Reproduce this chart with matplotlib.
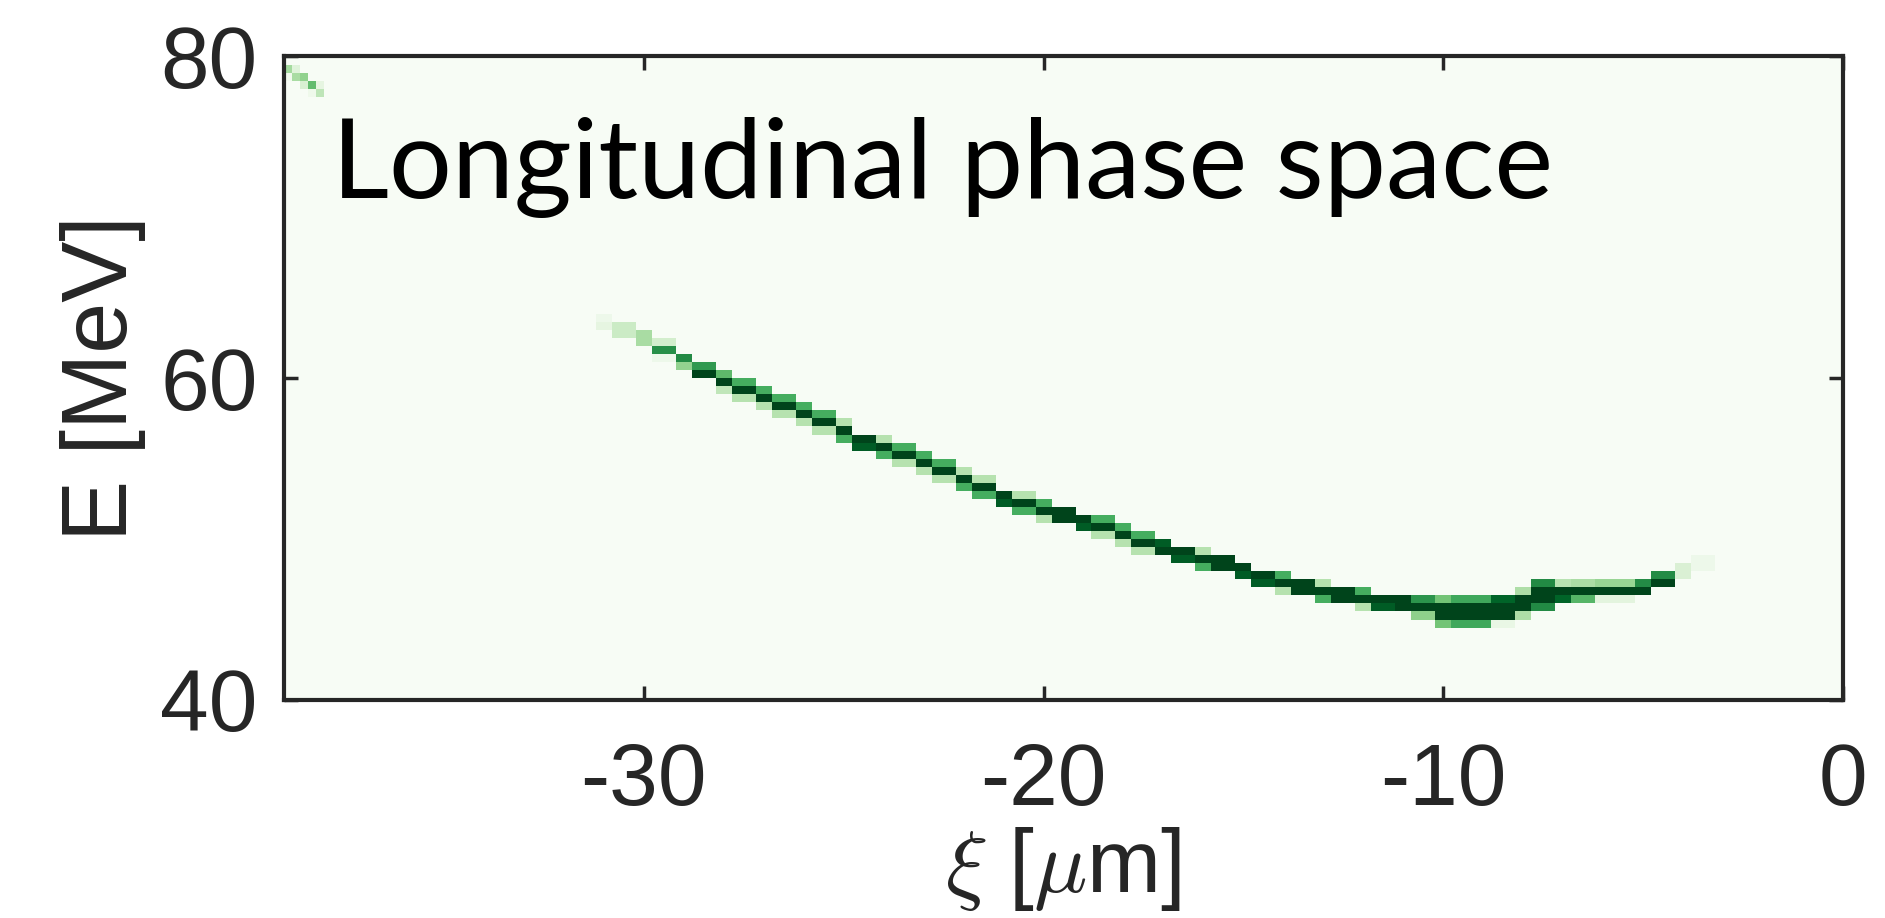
import numpy as np
import matplotlib
matplotlib.use('Agg')
import matplotlib.pyplot as plt

# ridge of the longitudinal phase space (xi in um, E in MeV)
ridge_xi = np.arange(-31.0, -3.49, 0.5)
ridge_E = [63.4, 63.0, 62.5, 61.8, 61.1, 60.4, 59.8, 59.3, 58.8, 58.3,
           57.8, 57.3, 56.7, 56.1, 55.7, 55.3, 54.8, 54.3, 53.7, 53.2,
           52.6, 52.2, 51.8, 51.5, 51.1, 50.8, 50.3, 49.8, 49.4, 49.1,
           48.7, 48.5, 48.1, 47.6, 47.3, 47.0, 46.7, 46.5, 46.3, 46.1,
           46.0, 45.8, 45.5, 45.5, 45.5, 45.7, 46.0, 46.5, 46.6, 46.7,
           46.8, 46.8, 46.9, 47.4, 48.0, 48.5]
ridge_level = [0.08, 0.2, 0.3, 0.4, 0.5, 0.75, 0.9, 1.0, 1.0, 1.0,
               1.0, 1.0, 1.0, 1.0, 1.0, 1.0, 1.0, 1.0, 1.0, 1.0,
               1.0, 1.0, 1.0, 1.0, 1.0, 1.0, 1.0, 1.0, 1.0, 1.0,
               1.0, 1.0, 1.0, 1.0, 1.0, 1.0, 1.0, 1.0, 1.0, 1.0,
               1.0, 1.0, 1.0, 1.0, 1.0, 1.0, 1.0, 1.0, 0.8, 0.8,
               0.8, 0.8, 0.9, 0.9, 0.15, 0.06]
ridge_width = [0.6, 0.6, 0.6, 0.6, 0.6, 0.65, 0.65, 0.65, 0.65, 0.65,
               0.65, 0.65, 0.65, 0.65, 0.65, 0.65, 0.65, 0.65, 0.65, 0.65,
               0.65, 0.65, 0.65, 0.65, 0.65, 0.65, 0.65, 0.65, 0.65, 0.65,
               0.65, 0.65, 0.65, 0.65, 0.65, 0.65, 0.65, 0.65, 0.65, 0.65,
               0.65, 0.7, 1.0, 1.1, 1.1, 1.0, 0.9, 1.2, 0.8, 0.7,
               0.6, 0.6, 0.6, 0.6, 0.6, 0.6]

# faint streak in the upper left corner
corner_xi = [-38.9, -38.7, -38.5, -38.3, -38.1]
corner_E = [79.2, 78.9, 78.6, 78.2, 77.9]
corner_level = [0.2, 0.25, 0.3, 0.3, 0.2]

xi_edges = np.arange(-39.0, 0.01, 0.2)
E_edges = np.arange(40.0, 80.01, 0.5)
xc = 0.5*(xi_edges[:-1]+xi_edges[1:])
Ec = 0.5*(E_edges[:-1]+E_edges[1:])
H = np.zeros((len(Ec), len(xc)))

def add_slice(x0, e0, a, w, half=0.25):
    for j in np.where(np.abs(xc-x0) <= half)[0]:
        d = np.abs(Ec-e0)
        H[:, j] = np.maximum(H[:, j], a*np.clip(1-d/w, 0, 1))

for x0, e0, a, w in zip(ridge_xi, ridge_E, ridge_level, ridge_width):
    add_slice(x0, e0, a, w)
for x0, e0, a in zip(corner_xi, corner_E, corner_level):
    add_slice(x0, e0, a, 0.5, half=0.1)

plt.rcParams['axes.unicode_minus'] = False
plt.rcParams['mathtext.fontset'] = 'cm'

fig = plt.figure(figsize=(18.85, 9.18), dpi=100)
ax = fig.add_axes([0.1507, 0.2375, 0.827, 0.701])
ax.pcolormesh(xi_edges, E_edges, H, cmap='Greens', vmin=0, vmax=0.5, shading='flat')
ax.set_xlim(-39, 0)
ax.set_ylim(40, 80)
ax.set_xticks([-30, -20, -10, 0])
ax.set_yticks([40, 60, 80])

c = '#262626'
for s in ax.spines.values():
    s.set_linewidth(3)
    s.set_color(c)
ax.tick_params(direction='in', length=10, width=2.5, color=c, top=True, right=True,
               labelsize=63, labelcolor=c, pad=19)
ax.tick_params(axis='x', pad=30)
for lab in ax.get_xticklabels()+ax.get_yticklabels():
    lab.set_family('Liberation Sans')

ax.set_xlabel(r'$\xi$ [$\mu$m]', fontsize=64, color=c, family='Liberation Sans', labelpad=2)
ax.set_ylabel('E [MeV]', fontsize=66, color=c, family='Liberation Sans', labelpad=10)

ax.text(0.031, 0.78, 'Longitudinal phase space', transform=ax.transAxes,
        fontsize=80, family='Lato', color='black')

fig.savefig('out.png', dpi=100)
